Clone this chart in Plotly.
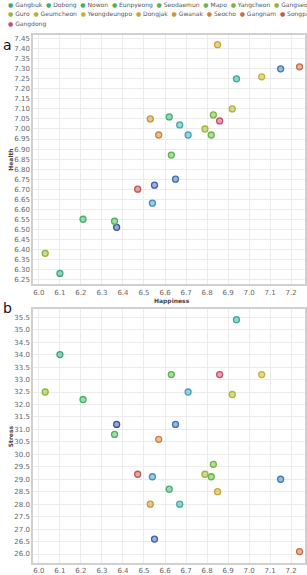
import plotly.graph_objects as go

districts = ["Jongno", "Jung", "Yongsan", "Seongdong", "Gwangjin", "Dongdaemun", "Jungnang", "Seongbuk",
             "Gangbuk", "Dobong", "Nowon", "Eunpyeong", "Seodaemun", "Mapo", "Yangcheon", "Gangseo",
             "Guro", "Geumcheon", "Yeongdeungpo", "Dongjak", "Gwanak", "Seocho", "Gangnam", "Songpa", "Gangdong"]
happiness = [6.37, 6.55, 6.65, 7.15, 6.54, 6.71, 6.67, 6.94,
             6.10, 6.62, 6.21, 6.36, 6.63, 6.82, 6.83, 6.03,
             6.79, 6.92, 7.06, 6.85, 6.53, 6.57, 7.24, 6.47, 6.86]
health = [6.51, 6.72, 6.75, 7.30, 6.63, 6.97, 7.02, 7.25,
          6.28, 7.06, 6.55, 6.54, 6.87, 6.97, 7.07, 6.38,
          7.00, 7.10, 7.26, 7.42, 7.05, 6.97, 7.31, 6.70, 7.04]
stress = [31.2, 26.6, 31.2, 29.0, 29.1, 32.5, 28.0, 35.4,
          34.0, 28.6, 32.2, 30.8, 33.2, 29.1, 29.6, 32.5,
          29.2, 32.4, 33.2, 28.5, 28.0, 30.6, 26.1, 29.2, 33.2]
colors = ["#3a4fa8", "#3d62b0", "#3f70b3", "#3d7bb5", "#3f92be", "#43a3c0", "#3eaba8", "#36ab98",
          "#3aa882", "#3fae74", "#45b166", "#4db35a", "#58b44c", "#66b443", "#77b63c", "#8cb736",
          "#a2b532", "#b4b431", "#c4b334", "#c9a634", "#cc953a", "#c98240", "#c46e48", "#c0584c", "#cc4a6c"]

W, H = 307, 575
ML, MR, MT, MB = 33, 0, 0, 7
PH = H - MT - MB


def py(px):
    return 1 - (px - MT) / PH


def pxx(px):
    return (px - ML) / (W - ML)


def rgba(h, a):
    h = h.lstrip("#")
    return "rgba(%d,%d,%d,%s)" % (int(h[0:2], 16), int(h[2:4], 16), int(h[4:6], 16), a)


fig = go.Figure()
for i, name in enumerate(districts):
    mk = dict(size=6, color=rgba(colors[i], 0.5), line=dict(color=colors[i], width=1.3))
    fig.add_trace(go.Scatter(x=[happiness[i]], y=[health[i]], mode="markers", name=name,
                             marker=mk, xaxis="x", yaxis="y", showlegend=False))
    fig.add_trace(go.Scatter(x=[happiness[i]], y=[stress[i]], mode="markers", name=name,
                             marker=mk, xaxis="x2", yaxis="y2", showlegend=False))

tickfont = dict(family="DejaVu Sans", size=7, color="#666666")
common = dict(showgrid=True, gridcolor="#ececec", gridwidth=1, zeroline=False,
              showline=True, linecolor="#d0d0d0", linewidth=1.5, mirror=True,
              ticks="", tickfont=tickfont)
xr = [5.972, 7.266]
fig.update_layout(
    width=W, height=H, margin=dict(l=ML, r=MR, t=MT, b=MB),
    paper_bgcolor="white", plot_bgcolor="white", showlegend=False,
    xaxis=dict(range=xr, dtick=0.1, tickformat=".1f", anchor="y", domain=[0, 1], **common),
    yaxis=dict(range=[6.225, 7.47], dtick=0.05, tickformat=".2f", anchor="x",
               domain=[py(287), py(35)], **common),
    xaxis2=dict(range=xr, dtick=0.1, tickformat=".1f", anchor="y2", domain=[0, 1], **common),
    yaxis2=dict(range=[25.64, 35.82], dtick=0.5, tickformat=".1f", anchor="x2",
                domain=[0, py(312)], **common),
)

ann = []
titlefont = dict(family="DejaVu Sans", size=6, color="#444")
ann.append(dict(text="<b>Health</b>", x=pxx(10), y=py(161), xref="paper", yref="paper",
                textangle=-90, showarrow=False, font=titlefont, xanchor="center", yanchor="middle"))
ann.append(dict(text="<b>Stress</b>", x=pxx(10), y=py(440), xref="paper", yref="paper",
                textangle=-90, showarrow=False, font=titlefont, xanchor="center", yanchor="middle"))
ann.append(dict(text="<b>Happiness</b>", x=pxx(173), y=py(304), xref="paper", yref="paper",
                showarrow=False, font=titlefont, xanchor="center", yanchor="middle"))
ann.append(dict(text="a", x=pxx(1), y=py(45), xref="paper", yref="paper",
                showarrow=False, font=dict(family="DejaVu Sans", size=14, color="#111"),
                xanchor="left", yanchor="middle"))
ann.append(dict(text="b", x=pxx(1), y=py(311), xref="paper", yref="paper",
                showarrow=False, font=dict(family="DejaVu Sans", size=14, color="#111"),
                xanchor="left", yanchor="middle"))

# legend rows (the first row lies above the visible area in the reference)
per_row = 8
row_y = [5, 14.5, 24]
for r, start in enumerate(range(per_row, len(districts), per_row)):
    parts = []
    for i in range(start, min(start + per_row, len(districts))):
        parts.append('<span style="color:%s">●</span> %s' % (colors[i], districts[i]))
    ann.append(dict(text="  ".join(parts), x=pxx(6), y=py(row_y[r]),
                    xref="paper", yref="paper", showarrow=False, align="left",
                    font=dict(family="DejaVu Sans", size=6, color="#555555"),
                    xanchor="left", yanchor="middle"))

fig.update_layout(annotations=ann)
fig.write_html("out.html")
